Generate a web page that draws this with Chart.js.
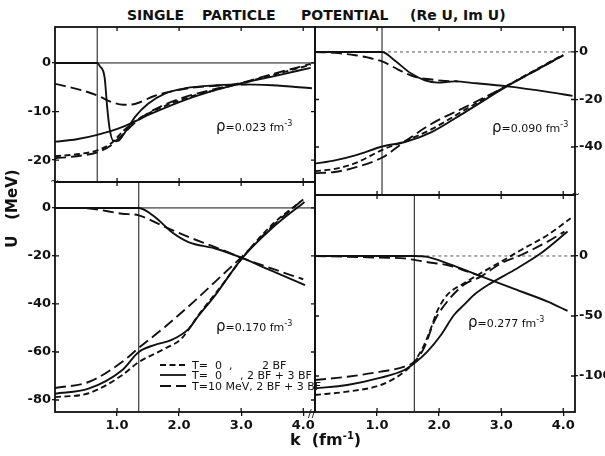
<!DOCTYPE html>
<html>
<head>
<meta charset="utf-8">
<script src="https://cdn.jsdelivr.net/npm/chart.js@4.4.0/dist/chart.umd.min.js"></script>
<style>
  body { margin: 0; width: 605px; height: 456px; background: #fff; overflow: hidden; position: relative;
         font-family: "DejaVu Sans", sans-serif; color: #111; }
  canvas { position: absolute; }
  .t { position: absolute; white-space: pre; line-height: 1; }
  .ttl { font-size: 14px; font-weight: bold; top: 8px; }
  .rho { font-size: 11px; }
  .rho b { font-size: 15px; font-weight: normal; }
  .rho sup { font-size: 8px; }
  .leg { position: absolute; font-size: 11px; line-height: 1; white-space: pre; }
  .brk { position: absolute; font-size: 11px; line-height: 1; }
</style>
</head>
<body>
<canvas id="tl" width="318" height="160" style="left:0;top:25px"></canvas>
<canvas id="tr" width="300" height="173" style="left:312px;top:25px"></canvas>
<canvas id="bl" width="318" height="262" style="left:0;top:180px"></canvas>
<canvas id="br" width="300" height="249" style="left:312px;top:193px"></canvas>

<div class="t ttl" style="left:127px">SINGLE</div>
<div class="t ttl" style="left:202px">PARTICLE</div>
<div class="t ttl" style="left:301px">POTENTIAL</div>
<div class="t ttl" style="left:410px">(Re U, Im U)</div>

<div class="t" style="left:-33px;top:201px;width:90px;text-align:center;font-size:15px;font-weight:bold;transform:rotate(-90deg)">U   (MeV)</div>
<div class="t" style="left:290px;top:431px;font-size:16px;font-weight:bold">k  (fm<sup style="font-size:10px">-1</sup>)</div>

<div class="t rho" style="left:216px;top:119px"><b>ρ</b>=0.023 fm<sup>-3</sup></div>
<div class="t rho" style="left:492px;top:120px"><b>ρ</b>=0.090 fm<sup>-3</sup></div>
<div class="t rho" style="left:216px;top:319px"><b>ρ</b>=0.170 fm<sup>-3</sup></div>
<div class="t rho" style="left:468px;top:315px"><b>ρ</b>=0.277 fm<sup>-3</sup></div>

<svg style="position:absolute;left:158px;top:360px" width="30" height="32">
  <line x1="2" y1="5" x2="28" y2="5" stroke="#111" stroke-width="1.8" stroke-dasharray="6 3.5"/>
  <line x1="2" y1="15" x2="28" y2="15" stroke="#111" stroke-width="1.8"/>
  <line x1="2" y1="26" x2="28" y2="26" stroke="#111" stroke-width="1.8" stroke-dasharray="11 5"/>
</svg>
<div class="leg" style="left:192px;top:360px">T=  0</div>
<div class="leg" style="left:229px;top:360px">,</div>
<div class="leg" style="left:262px;top:360px">2 BF</div>
<div class="leg" style="left:192px;top:370px">T=  0</div>
<div class="leg" style="left:240px;top:370px">, 2 BF + 3 BF</div>
<div class="leg" style="left:192px;top:381px">T=10 MeV, 2 BF + 3 BF</div>

<div class="brk" style="left:308px;top:408px">//</div>
<div class="brk" style="left:50px;top:176px">~</div>
<div class="brk" style="left:571px;top:189px">~</div>

<script>
// axis ticks
const kTicks = [1, 2, 3, 4];
const kLabels = ["1.0", "2.0", "3.0", "4.0"];
const uTicksTL = [0, -10, -20];
const uTicksTR = [0, -20, -40];
const uTicksBL = [0, -20, -40, -60, -80];
const uTicksBR = [0, -50, -100];

// Fermi momenta (vertical lines), fm^-1
const kFermi = [0.68, 1.08, 1.35, 1.60];

// rho = 0.023 fm^-3   [k, U]
const tlReSolid = [[0,-16.2],[0.35,-15.7],[0.68,-14.8],[1.08,-13.2],[1.56,-10.4],[2.1,-7.6],[2.64,-5.4],[3.0,-4.2],[3.5,-2.8],[4.12,-1.0]];
const tlReShort = [[0,-19.2],[0.35,-18.8],[0.68,-18.0],[0.9,-16.6],[1.1,-14.0],[1.3,-11.9],[1.6,-9.8],[2.1,-7.3],[2.6,-5.5],[3.0,-4.2],[3.5,-2.5],[4.12,-0.4]];
const tlReLong  = [[0,-19.6],[0.35,-19.2],[0.68,-18.4],[0.9,-17.0],[1.1,-14.6],[1.3,-12.2],[1.6,-9.6],[2.1,-7.0],[2.6,-5.3],[3.0,-4.1],[3.5,-2.3],[4.12,-0.2]];
const tlImSolid = [[0,0],[0.68,0],[0.72,-0.6],[0.8,-3.0],[0.84,-9],[0.88,-13.5],[0.94,-16.0],[1.02,-16.0],[1.1,-14.8],[1.18,-13.3],[1.29,-11.1],[1.5,-8.4],[1.77,-6.3],[2.1,-5.2],[2.6,-4.6],[3.0,-4.4],[3.5,-4.6],[4.14,-5.2]];
const tlImLong  = [[0,-4.3],[0.43,-5.6],[0.7,-6.8],[0.9,-8.0],[1.1,-8.6],[1.3,-8.4],[1.6,-6.8],[2.1,-5.3],[2.6,-4.7],[3.1,-4.4]];

// rho = 0.090 fm^-3
const trReSolid = [[0,-47],[0.32,-45.6],[0.65,-43.5],[1.1,-39.7],[1.45,-37.9],[1.88,-33.7],[2.42,-25.3],[3.09,-14.5],[3.66,-6.3],[4.0,-1.4]];
const trReShort = [[0,-50.2],[0.32,-49.2],[0.65,-46.8],[1.1,-41.0],[1.45,-37.5],[1.88,-32.5],[2.42,-24.3],[3.09,-14.3],[3.66,-6.0],[4.0,-1.2]];
const trReLong  = [[0,-51],[0.32,-50.5],[0.65,-48.6],[1.1,-44.2],[1.4,-38.6],[1.88,-30.2],[2.42,-23.2],[3.0,-15.5],[3.5,-8.6],[4.0,-1.5]];
const trImSolid = [[0,0],[1.08,0],[1.28,-3.5],[1.55,-9.1],[1.77,-11.9],[1.98,-12.9],[2.25,-12.4],[2.6,-13.2],[3.1,-14.5],[3.75,-16.8],[4.15,-18.5]];
const trImLong  = [[0,0],[0.32,-0.4],[0.65,-1.4],[0.86,-2.4],[1.1,-4.2],[1.34,-7.4],[1.61,-10.5],[1.88,-11.6],[2.1,-12.2],[2.3,-12.3]];

// rho = 0.170 fm^-3
const blReSolid = [[0,-77.4],[0.54,-75.3],[1.08,-67.6],[1.35,-60.0],[1.61,-57.0],[1.88,-55.0],[2.15,-50.5],[2.31,-45.0],[2.58,-36.4],[3.01,-21.1],[3.49,-8.6],[4.02,2.5]];
const blReShort = [[0,-78.8],[0.54,-77.2],[1.08,-69.7],[1.35,-64.2],[1.77,-58.6],[2.04,-54.4],[2.31,-44.7],[2.69,-32.2],[3.01,-21.1],[3.49,-7.2],[4.0,3.5]];
const blReLong  = [[0,-75.0],[0.54,-72.5],[1.08,-64.2],[1.35,-58.3],[1.77,-49.6],[2.26,-38.5],[2.69,-28.1],[3.01,-20.4],[3.49,-7.9],[3.95,2.5]];
const blImSolid = [[0,0],[1.35,0],[1.61,-3.75],[1.88,-10],[2.15,-14.2],[2.58,-16.9],[3.01,-20.8],[3.44,-25.6],[4.03,-32.2]];
const blImLong  = [[0,0],[0.48,-0.1],[1.08,-2.4],[1.35,-3.1],[1.77,-7.9],[2.15,-12.1],[2.58,-16.3],[3.01,-20.8],[3.5,-25.3],[4.0,-29.7]];

// rho = 0.277 fm^-3
const brReSolid = [[0,-110.3],[0.52,-107.5],[1.06,-101.4],[1.44,-95],[1.6,-89.4],[1.81,-79.7],[2.03,-65.8],[2.24,-49.2],[2.4,-40.8],[2.56,-32.5],[2.83,-22.8],[3.21,-11.7],[3.64,2.2],[4.07,20.3]];
const brReShort = [[0,-115.8],[0.52,-113],[1.06,-107.5],[1.44,-96.4],[1.6,-88],[1.76,-74],[1.87,-60],[1.97,-46],[2.13,-32.5],[2.4,-22.8],[2.67,-14.4],[3.0,-4.7],[3.32,5],[3.75,17.5],[4.12,31.4]];
const brReLong  = [[0,-103.3],[0.52,-100.6],[1.06,-96.4],[1.44,-92.2],[1.6,-88],[1.76,-76.4],[1.92,-54.7],[2.13,-38],[2.4,-24],[2.67,-17.2],[3.0,-6.1],[3.32,0.8],[3.75,12],[4.02,20.3]];
const brImSolid = [[0,0],[1.6,0],[1.81,-0.8],[2.13,-6.1],[2.67,-16.7],[3.21,-27.5],[3.75,-38],[4.07,-45.8]];
const brImLong  = [[0,0],[0.52,-0.6],[1.06,-1.4],[1.44,-2.0],[1.6,-3.3],[1.87,-5.6],[2.13,-7.5],[2.46,-13],[2.67,-16.7]];

const SHORT = [6, 3.5];
const LONG = [11, 5];

Chart.defaults.font.family = '"DejaVu Sans", sans-serif';
Chart.defaults.font.weight = 'bold';
Chart.defaults.color = '#111';

const frame = {
  id: 'frame',
  beforeDatasetsDraw(chart, args, opts) {
    const { ctx, chartArea: a, scales: { x, y } } = chart;
    ctx.save();
    ctx.strokeStyle = '#111';
    ctx.lineWidth = 1;
    const y0 = y.getPixelForValue(0);
    const xf = x.getPixelForValue(opts.kf);
    // zero line: solid, dotted beyond k_F in the right-hand panels
    ctx.beginPath(); ctx.moveTo(a.left, y0); ctx.lineTo(opts.dotted ? xf : a.right, y0); ctx.stroke();
    if (opts.dotted) {
      ctx.setLineDash([3, 3]);
      ctx.strokeStyle = '#555';
      ctx.beginPath(); ctx.moveTo(xf, y0); ctx.lineTo(a.right, y0); ctx.stroke();
      ctx.setLineDash([]);
      ctx.strokeStyle = '#111';
    }
    ctx.beginPath(); ctx.moveTo(xf, a.top); ctx.lineTo(xf, a.bottom); ctx.stroke();
    ctx.restore();
  },
  afterDatasetsDraw(chart, args, opts) {
    const { ctx, chartArea: a, scales: { x, y } } = chart;
    ctx.save();
    ctx.strokeStyle = '#111';
    ctx.lineWidth = 1.8;
    ctx.strokeRect(a.left, a.top, a.right - a.left, a.bottom - a.top);
    ctx.lineWidth = 1.3;
    ctx.beginPath();
    kTicks.forEach(v => {
      const px = x.getPixelForValue(v);
      ctx.moveTo(px, a.top); ctx.lineTo(px, a.top + 4);
      ctx.moveTo(px, a.bottom); ctx.lineTo(px, a.bottom - 4);
    });
    opts.ticks.forEach(v => {
      const py = y.getPixelForValue(v);
      ctx.moveTo(a.left, py); ctx.lineTo(a.left + 4, py);
      ctx.moveTo(a.right, py); ctx.lineTo(a.right - 4, py);
    });
    ctx.stroke();
    ctx.restore();
  }
};

function curve(pts, dash) {
  return {
    data: pts.map(p => ({ x: p[0], y: p[1] })),
    borderColor: '#111',
    borderWidth: 1.9,
    borderDash: dash,
    pointRadius: 0,
    fill: false,
    cubicInterpolationMode: 'monotone'
  };
}

function panel(id, kf, yMin, yMax, ticks, side, showX, sets) {
  new Chart(document.getElementById(id), {
    type: 'line',
    data: { datasets: sets },
    options: {
      responsive: false,
      animation: false,
      events: [],
      layout: { padding: side === 'left' ? { top: 2, right: 3, left: 0, bottom: 0 } : { top: 2, right: 0, left: 3, bottom: 0 } },
      plugins: { legend: { display: false }, tooltip: { enabled: false },
                 frame: { kf: kf, ticks: ticks, dotted: side === 'right' } },
      scales: {
        x: {
          type: 'linear', min: 0, max: 4.19,
          afterBuildTicks: s => { s.ticks = kTicks.map(v => ({ value: v })); },
          ticks: { display: showX, autoSkip: false, maxRotation: 0, padding: 2, font: { size: 13, weight: 'bold' },
                   callback: (v, i) => kLabels[i] },
          grid: { drawOnChartArea: false, drawTicks: showX, tickLength: 4, color: '#111', lineWidth: 1.3 },
          border: { display: false },
          afterFit: s => { s.height = showX ? 30 : 3; s.paddingLeft = 0; s.paddingRight = 0; }
        },
        y: {
          position: side, min: yMin, max: yMax,
          afterBuildTicks: s => { s.ticks = ticks.map(v => ({ value: v })); },
          ticks: { autoSkip: false, padding: 1, font: { size: 13, weight: 'bold' }, callback: v => String(v) },
          grid: { drawOnChartArea: false, tickLength: 3, color: '#111', lineWidth: 1.3 },
          border: { display: false },
          afterFit: s => { s.width = side === 'left' ? 55 : 37; s.paddingTop = 0; s.paddingBottom = 0; }
        }
      }
    },
    plugins: [frame]
  });
}

panel('tl', kFermi[0], -24.5, 7.4, uTicksTL, 'left', false, [
  curve(tlReSolid, []), curve(tlReShort, SHORT), curve(tlReLong, LONG),
  curve(tlImSolid, []), curve(tlImLong, LONG)
]);
panel('tr', kFermi[1], -60.2, 10.5, uTicksTR, 'right', false, [
  curve(trReSolid, []), curve(trReShort, SHORT), curve(trReLong, LONG),
  curve(trImSolid, []), curve(trImLong, LONG)
]);
panel('bl', kFermi[2], -85, 10.8, uTicksBL, 'left', true, [
  curve(blReSolid, []), curve(blReShort, SHORT), curve(blReLong, LONG),
  curve(blImSolid, []), curve(blImLong, LONG)
]);
panel('br', kFermi[3], -130, 50.8, uTicksBR, 'right', true, [
  curve(brReSolid, []), curve(brReShort, SHORT), curve(brReLong, LONG),
  curve(brImSolid, []), curve(brImLong, LONG)
]);
</script>
</body>
</html>
